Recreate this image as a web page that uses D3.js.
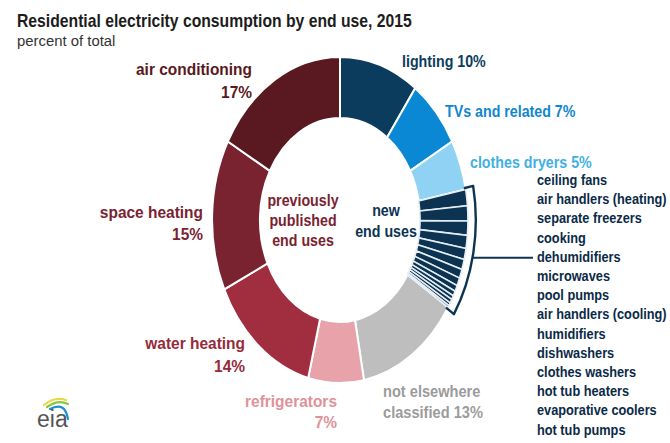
<!DOCTYPE html>
<html>
<head>
<meta charset="utf-8">
<script src="https://cdn.jsdelivr.net/npm/d3@7"></script>
<style>
  html, body { margin: 0; padding: 0; background: #ffffff; }
  svg { display: block; }
  text { font-family: "Liberation Sans", Arial, sans-serif; }
</style>
</head>
<body>
<svg id="chart" width="670" height="443"></svg>
<script>
// Residential electricity consumption by end use, 2015 (percent of total)
const categories = ["lighting", "TVs and related", "clothes dryers", "new end uses",
  "not elsewhere classified", "refrigerators", "water heating", "space heating", "air conditioning"];
const shares = [10, 7, 5, 12, 13, 7, 14, 15, 17];

// End uses newly broken out, listed largest first
const newUses = ["ceiling fans", "air handlers (heating)", "separate freezers", "cooking",
  "dehumidifiers", "microwaves", "pool pumps", "air handlers (cooling)", "humidifiers",
  "dishwashers", "clothes washers", "hot tub heaters", "evaporative coolers", "hot tub pumps"];
const newShares = [1.6, 1.5, 1.4, 1.3, 1.1, 1.0, 0.9, 0.8, 0.6, 0.5, 0.4, 0.4, 0.3, 0.2];

const fills = {
  "lighting": "#0b3c5d",
  "TVs and related": "#0b88d3",
  "clothes dryers": "#8fd2f3",
  "new end uses": "#0c3452",
  "not elsewhere classified": "#bebebe",
  "refrigerators": "#e8a2a9",
  "water heating": "#a02e3e",
  "space heating": "#7a2330",
  "air conditioning": "#5a1920"
};

const svg = d3.select("#chart");
const cx = 340, cy = 220, R = 163, r = 102, squeeze = 0.785;

const ring = svg.append("g")
  .attr("transform", `translate(${cx},${cy}) scale(${squeeze},1)`);

const pie = d3.pie().sort(null).value(d => d.v);
const slices = pie(categories.map((c, i) => ({ c, v: shares[i] })));
const arc = d3.arc().innerRadius(r).outerRadius(R);

ring.selectAll("path.slice")
  .data(slices)
  .join("path")
  .attr("class", "slice")
  .attr("d", arc)
  .attr("fill", d => fills[d.data.c])
  .attr("stroke", "#ffffff")
  .attr("stroke-width", 2)
  .attr("vector-effect", "non-scaling-stroke");

// Sub-bands inside the "new end uses" slice
const nu = slices.find(s => s.data.c === "new end uses");
const subPie = d3.pie().sort(null).startAngle(nu.startAngle).endAngle(nu.endAngle);
ring.selectAll("path.sub")
  .data(subPie(newShares))
  .join("path")
  .attr("class", "sub")
  .attr("d", arc)
  .attr("fill", fills["new end uses"])
  .attr("stroke", "#e6eef4")
  .attr("stroke-width", 1.6)
  .attr("vector-effect", "non-scaling-stroke");

// Bracket around the new end uses
const polar = (rad, a) => [rad * Math.sin(a), -rad * Math.cos(a)];
const a0 = nu.startAngle - 0.01, a1 = nu.endAngle + 0.01, Rb = R + 10;
const bp = d3.path();
bp.moveTo(...polar(R - 2, a0));
bp.lineTo(...polar(Rb, a0));
bp.arc(0, 0, Rb, a0 - Math.PI / 2, a1 - Math.PI / 2);
bp.lineTo(...polar(R - 2, a1));
ring.append("path")
  .attr("d", bp.toString())
  .attr("fill", "none")
  .attr("stroke", "#0c3452")
  .attr("stroke-width", 2.4)
  .attr("stroke-linejoin", "round")
  .attr("vector-effect", "non-scaling-stroke");

// Text helper: condensed look via horizontal scaling
function label(txt, x, y, o) {
  return svg.append("text")
    .attr("transform", `translate(${x},${y}) scale(${o.sx || 1},1)`)
    .attr("text-anchor", o.anchor || "start")
    .attr("font-size", o.size)
    .attr("font-weight", o.weight || "bold")
    .attr("fill", o.color)
    .text(txt);
}

// Title
label("Residential electricity consumption by end use, 2015", 17, 27,
  { size: 18.5, sx: 0.85, color: "#1c1c1c" });
label("percent of total", 17, 46, { size: 15.5, weight: "normal", sx: 0.96, color: "#333333" });

// Slice labels
const L = { size: 17, sx: 0.91 };
label("air conditioning", 252, 75, { ...L, anchor: "end", color: "#5a1920" });
label("17%", 252, 98, { ...L, anchor: "end", color: "#5a1920" });
label("space heating", 203, 218, { ...L, anchor: "end", color: "#7a2330" });
label("15%", 203, 240, { ...L, anchor: "end", color: "#7a2330" });
label("water heating", 245, 349, { ...L, anchor: "end", color: "#952a3a" });
label("14%", 245, 372, { ...L, anchor: "end", color: "#952a3a" });
label("refrigerators", 337, 407, { ...L, anchor: "end", color: "#e0929b" });
label("7%", 337, 428, { ...L, anchor: "end", color: "#e0929b" });
label("not elsewhere", 383, 397, { size: 17, sx: 0.86, color: "#9b9b9b" });
label("classified 13%", 383, 418, { size: 17, sx: 0.86, color: "#9b9b9b" });

const Rt = { size: 16, sx: 0.89 };
label("lighting 10%", 402, 67, { ...Rt, color: "#0b3c5d" });
label("TVs and related 7%", 445, 117, { ...Rt, color: "#0f86cf" });
label("clothes dryers 5%", 470, 168, { ...Rt, color: "#3fb0e4" });

// Centre captions
const C = { size: 16, sx: 0.89, anchor: "middle" };
label("previously", 303, 206, { ...C, color: "#7a2330" });
label("published", 303, 226, { ...C, color: "#7a2330" });
label("end uses", 303, 246, { ...C, color: "#7a2330" });
label("new", 386, 216, { ...C, color: "#0c3452" });
label("end uses", 386, 237, { ...C, color: "#0c3452" });

// List of new end uses
const listX = 537, listY0 = 185, listStep = 19.2;
newUses.forEach((name, i) => {
  label(name, listX, listY0 + i * listStep, { size: 14.5, sx: 0.88, color: "#0b2a47" });
});

// Connector from bracket to the list
const lineY = listY0 + 4 * listStep - 4;
const ang = Math.acos(-(lineY - cy) / Rb);
const bx = cx + squeeze * Rb * Math.sin(ang);
svg.append("line")
  .attr("x1", bx).attr("y1", lineY)
  .attr("x2", listX - 4).attr("y2", lineY)
  .attr("stroke", "#0c3452")
  .attr("stroke-width", 2);

// eia mark
const logo = svg.append("g");
logo.append("path").attr("d", "M44,405 Q55,396 66,400").attr("fill", "none")
  .attr("stroke", "#e6d94a").attr("stroke-width", 2.2).attr("stroke-linecap", "round");
logo.append("path").attr("d", "M47,407 Q58,399 68,404").attr("fill", "none")
  .attr("stroke", "#8cc63f").attr("stroke-width", 2.2).attr("stroke-linecap", "round");
logo.append("path").attr("d", "M50,409 Q65,401 68,419").attr("fill", "none")
  .attr("stroke", "#1a8fd0").attr("stroke-width", 2.2).attr("stroke-linecap", "round");
logo.append("text").attr("x", 37).attr("y", 427)
  .attr("font-family", "'Liberation Serif', 'DejaVu Serif', serif")
  .attr("font-size", 23).attr("fill", "#555555").text("eia");
</script>
</body>
</html>
